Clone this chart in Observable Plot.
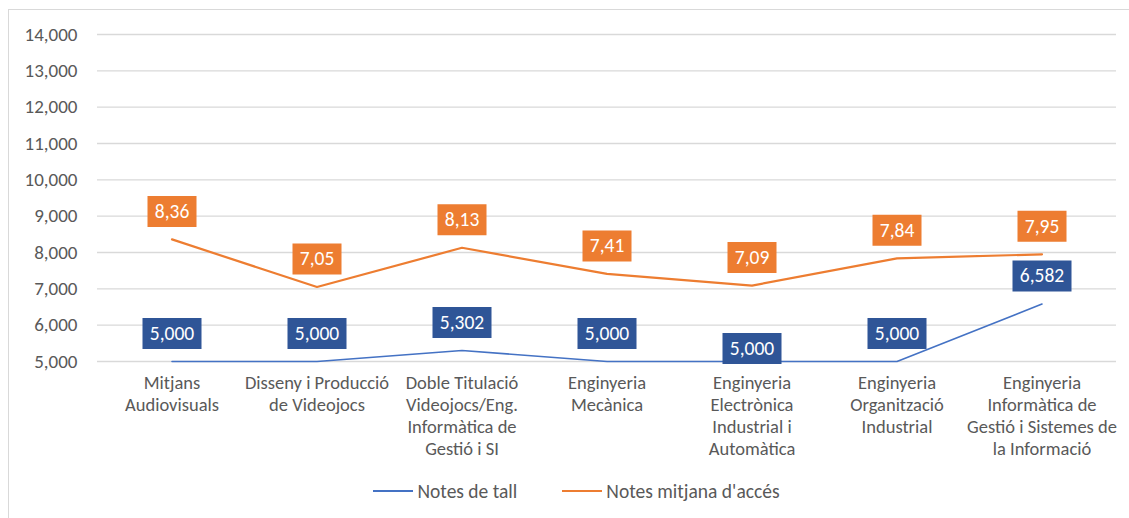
<!DOCTYPE html>
<html>
<head>
<meta charset="utf-8">
<script src="https://cdn.jsdelivr.net/npm/d3@7"></script>
<script src="https://cdn.jsdelivr.net/npm/@observablehq/plot@0.6"></script>
<style>
  html, body { margin: 0; padding: 0; background: #fff; }
  #wrap { position: relative; width: 1129px; height: 518px; overflow: hidden;
          font-family: Carlito, "Liberation Sans Narrow", "DejaVu Sans Condensed", "Open Sans", sans-serif; }
  #frame { position: absolute; left: 8px; top: 9px; width: 1200px; height: 600px;
           border-top: 1.5px solid #d9d9d9; border-left: 1.5px solid #d9d9d9; box-sizing: border-box; }
  #chart { position: absolute; left: 0; top: 0; }
  #legend { position: absolute; top: 479px; left: 12px; width: 1129px; display: flex; justify-content: center;
            gap: 45px; font-size: 19.5px; line-height: 24px; color: #595959; }
  #legend span.item { display: inline-flex; align-items: center; }
  #legend span.sw { display: inline-block; width: 40px; height: 2px; margin-right: 4px; }
</style>
</head>
<body>
<div id="wrap">
  <div id="frame"></div>
  <div id="chart"></div>
  <div id="legend"></div>
</div>
<script>
const categories = [
  "Mitjans Audiovisuals",
  "Disseny i Producció de Videojocs",
  "Doble Titulació Videojocs/Eng. Informàtica de Gestió i SI",
  "Enginyeria Mecànica",
  "Enginyeria Electrònica Industrial i Automàtica",
  "Enginyeria Organització Industrial",
  "Enginyeria Informàtica de Gestió i Sistemes de la Informació"
];
const categoryLabels = [
  "Mitjans\nAudiovisuals",
  "Disseny i Producció\nde Videojocs",
  "Doble Titulació\nVideojocs/Eng.\nInformàtica de\nGestió i SI",
  "Enginyeria\nMecànica",
  "Enginyeria\nElectrònica\nIndustrial i\nAutomàtica",
  "Enginyeria\nOrganització\nIndustrial",
  "Enginyeria\nInformàtica de\nGestió i Sistemes de\nla Informació"
];
const notesTall = [5.000, 5.000, 5.302, 5.000, 5.000, 5.000, 6.582];
const notesMitjana = [8.36, 7.05, 8.13, 7.41, 7.09, 7.84, 7.95];
const seriesNames = ["Notes de tall", "Notes mitjana d'accés"];
const yTicks = [5, 6, 7, 8, 9, 10, 11, 12, 13, 14];

const blue = "#4472C4", blueBox = "#2F5597", orange = "#ED7D31";
const FONT = 'Carlito, "Liberation Sans Narrow", "DejaVu Sans Condensed", "Open Sans", sans-serif';

const tall = categories.map((c, i) => ({cat: c, v: notesTall[i], i}));
const mitj = categories.map((c, i) => ({cat: c, v: notesMitjana[i], i}));

const fmt3 = v => v.toFixed(3).replace(".", ",");
const fmt2 = v => v.toFixed(2).replace(".", ",");
const fmtTick = v => v.toFixed(3).replace(".", ",");

function boxSymbol(w, h) {
  return { draw(ctx) { ctx.rect(-w / 2, -h / 2, w, h); } };
}

const tallMain = tall.filter(d => d.i !== 4);
const tallLow = tall.filter(d => d.i === 4);

const chart = Plot.plot({
  width: 1129,
  height: 470,
  marginLeft: 97,
  marginRight: 13,
  marginTop: 34,
  marginBottom: 109,
  style: { fontFamily: FONT, background: "transparent" },
  x: { type: "band", domain: categories, padding: 0, label: null },
  y: { domain: [5, 14], label: null },
  marks: [
    Plot.ruleY(yTicks, { stroke: "#d9d9d9", strokeWidth: 1.3 }),
    Plot.axisY(yTicks, { tickSize: 0, tickPadding: 20, tickFormat: fmtTick, fontSize: 19, fill: "#595959", label: null }),
    Plot.axisX({ tickSize: 0, tickPadding: 12, tickFormat: d => categoryLabels[categories.indexOf(d)], fontSize: 18.5, fill: "#595959", lineHeight: 1.19, label: null }),
    Plot.line(mitj, { x: "cat", y: "v", stroke: orange, strokeWidth: 2.2 }),
    Plot.line(tall, { x: "cat", y: "v", stroke: blue, strokeWidth: 1.6 }),
    // orange labels
    Plot.dot(mitj, { x: "cat", y: "v", dy: -28, symbol: boxSymbol(49, 31), fill: orange, stroke: null }),
    Plot.text(mitj, { x: "cat", y: "v", dy: -28, text: d => fmt2(d.v), fill: "white", fontSize: 19.5 }),
    // blue labels
    Plot.dot(tallMain, { x: "cat", y: "v", dy: -28, symbol: boxSymbol(59, 31), fill: blueBox, stroke: null }),
    Plot.text(tallMain, { x: "cat", y: "v", dy: -28, text: d => fmt3(d.v), fill: "white", fontSize: 19.5 }),
    Plot.dot(tallLow, { x: "cat", y: "v", dy: -13, symbol: boxSymbol(59, 31), fill: blueBox, stroke: null }),
    Plot.text(tallLow, { x: "cat", y: "v", dy: -13, text: d => fmt3(d.v), fill: "white", fontSize: 19.5 })
  ]
});
document.getElementById("chart").appendChild(chart);

const legend = document.getElementById("legend");
[[seriesNames[0], blue], [seriesNames[1], orange]].forEach(([name, col]) => {
  const it = document.createElement("span");
  it.className = "item";
  const sw = document.createElement("span");
  sw.className = "sw";
  sw.style.background = col;
  it.appendChild(sw);
  it.appendChild(document.createTextNode(name));
  legend.appendChild(it);
});
</script>
</body>
</html>
